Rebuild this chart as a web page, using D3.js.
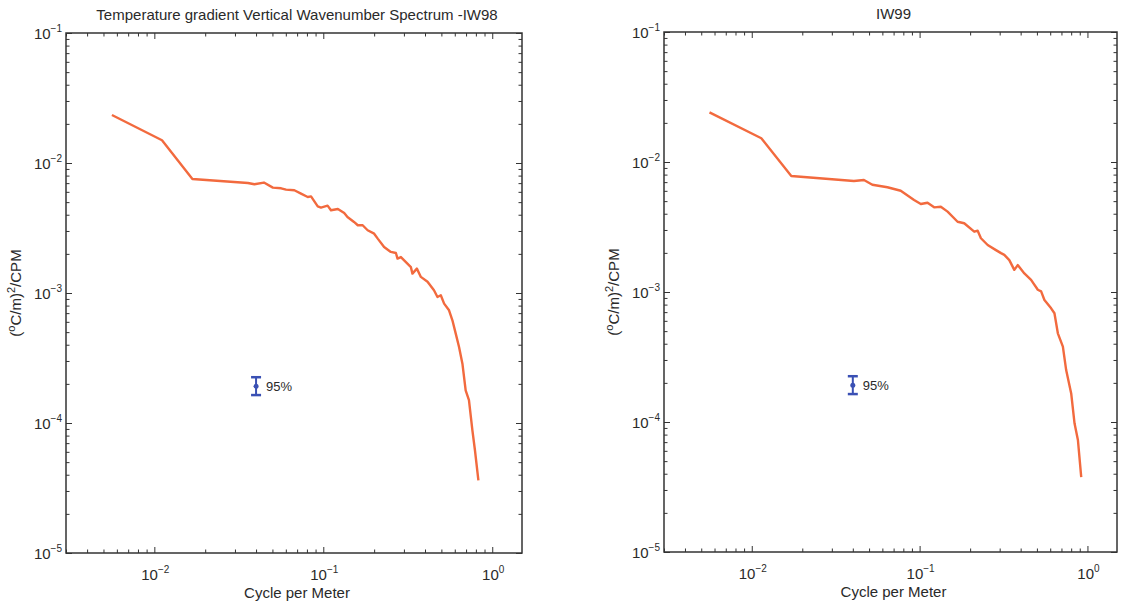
<!DOCTYPE html>
<html>
<head>
<meta charset="utf-8">
<script src="https://cdn.jsdelivr.net/npm/d3@7"></script>
<style>
body { margin: 0; background: #fff; }
text { font-family: "Liberation Sans", Arial, sans-serif; fill: #2a2a2a; }
.axis path { display: none; }
.axis line { stroke: #333; stroke-width: 1; }
</style>
</head>
<body>
<div id="viz"></div>
<script>
// spectrum values (cycle per meter, (oC/m)^2/CPM)
var kIW98 = [0.00561, 0.0111, 0.0168, 0.0358, 0.0391, 0.0445, 0.0503, 0.0563, 0.0602, 0.0674,
  0.0738, 0.0809, 0.0846, 0.0927, 0.0969, 0.106, 0.111, 0.122, 0.133, 0.139,
  0.152, 0.160, 0.171, 0.183, 0.200, 0.210, 0.229, 0.251, 0.269, 0.275,
  0.288, 0.330, 0.337, 0.358, 0.378, 0.414, 0.452, 0.474, 0.496, 0.519,
  0.555, 0.581, 0.608, 0.636, 0.666, 0.696, 0.728, 0.763, 0.790, 0.828];
var sIW98 = [0.0234, 0.01495, 0.00753, 0.00702, 0.00686, 0.00707, 0.00647, 0.00639, 0.00624, 0.00617,
  0.00582, 0.00548, 0.00554, 0.00464, 0.00454, 0.00470, 0.00433, 0.00443, 0.00412, 0.00384,
  0.00352, 0.00332, 0.00332, 0.00304, 0.00286, 0.00262, 0.00226, 0.00207, 0.00203, 0.00184,
  0.00189, 0.00158, 0.00141, 0.00154, 0.00133, 0.00122, 0.00105, 0.000931, 0.000960, 0.000829,
  0.000736, 0.000617, 0.000487, 0.000384, 0.000286, 0.000178, 0.000150, 0.0000879, 0.0000617, 0.0000362];

var kIW99 = [0.0056, 0.0114, 0.0172, 0.0406, 0.0466, 0.0523, 0.0643, 0.0772, 0.0927, 0.1017,
  0.1115, 0.1221, 0.1338, 0.1468, 0.1684, 0.1844, 0.2116, 0.2218, 0.2320, 0.2544,
  0.2851, 0.3056, 0.3197, 0.3424, 0.3667, 0.3843, 0.4209, 0.4615, 0.5061, 0.5297,
  0.5543, 0.6077, 0.6360, 0.6663, 0.7139, 0.7468, 0.8002, 0.8376, 0.8774, 0.9182];
var sIW99 = [0.0241, 0.01522, 0.00780, 0.00714, 0.00727, 0.00669, 0.00639, 0.00601, 0.00510, 0.00475,
  0.00486, 0.00448, 0.00453, 0.00415, 0.00347, 0.00338, 0.00291, 0.00296, 0.00259, 0.00230,
  0.00210, 0.00199, 0.00193, 0.00176, 0.00148, 0.00161, 0.00139, 0.00124, 0.00104, 0.00101,
  0.000868, 0.000749, 0.000686, 0.000481, 0.000380, 0.000251, 0.000166, 0.0000977, 0.0000727, 0.0000377];

// axis ticks and labels
var xTicks = [0.01, 0.1, 1];
var xTickExp = ['\u22122', '\u22121', '0'];
var yTicks = [1e-1, 1e-2, 1e-3, 1e-4, 1e-5];
var yTickExp = ['\u22121', '\u22122', '\u22123', '\u22124', '\u22125'];

// 95% confidence bar
var ciK = 0.04;
var ciLow = 1.64e-4;
var ciMid = 1.92e-4;
var ciHigh = 2.25e-4;

var svg = d3.select('#viz').append('svg')
  .attr('width', 1129)
  .attr('height', 605);

// minor tick values, 2..9 in every decade
function minors(lo, hi) {
  var out = [];
  for (var e = -6; e <= 1; e++) {
    for (var m = 2; m <= 9; m++) {
      var v = m * Math.pow(10, e);
      if (v >= lo * 0.999 && v <= hi * 1.001) out.push(v);
    }
  }
  return out;
}

function drawPanel(id, left, top, width, height, k, s, title) {
  var g = svg.append('g')
    .attr('id', id)
    .attr('transform', 'translate(' + left + ',' + top + ')');

  var x = d3.scaleLog().domain([0.003, 1.5]).range([0, width]);
  var y = d3.scaleLog().domain([1e-5, 1e-1]).range([height, 0]);

  var xMin = minors(0.003, 1.5);
  var yMin = minors(1e-5, 1e-1);

  // ticks point inward on all four sides
  function ticks(axis, vals, size, tr) {
    g.append('g')
      .attr('class', 'axis')
      .attr('transform', tr)
      .call(axis.tickValues(vals).tickSize(-size).tickFormat(''));
  }
  ticks(d3.axisBottom(x), xTicks, 6, 'translate(0,' + height + ')');
  ticks(d3.axisBottom(x), xMin, 3.5, 'translate(0,' + height + ')');
  ticks(d3.axisTop(x), xTicks, 6, 'translate(0,0)');
  ticks(d3.axisTop(x), xMin, 3.5, 'translate(0,0)');
  ticks(d3.axisLeft(y), yTicks, 6, 'translate(0,0)');
  ticks(d3.axisLeft(y), yMin, 3.5, 'translate(0,0)');
  ticks(d3.axisRight(y), yTicks, 6, 'translate(' + width + ',0)');
  ticks(d3.axisRight(y), yMin, 3.5, 'translate(' + width + ',0)');

  // box
  g.append('rect')
    .attr('width', width)
    .attr('height', height)
    .attr('fill', 'none')
    .attr('stroke', '#333')
    .attr('stroke-width', 1.5);

  // x tick labels
  xTicks.forEach(function (v, i) {
    var t = g.append('text')
      .attr('x', x(v) + 1)
      .attr('y', height + 27)
      .attr('text-anchor', 'middle')
      .style('font-size', '15px');
    t.append('tspan').text('10');
    t.append('tspan').attr('dy', -7).style('font-size', '10px').text(xTickExp[i]);
  });

  // y tick labels
  yTicks.forEach(function (v, i) {
    var t = g.append('text')
      .attr('x', -4)
      .attr('y', y(v) + 6)
      .attr('text-anchor', 'end')
      .style('font-size', '15px');
    t.append('tspan').text('10');
    t.append('tspan').attr('dy', -7).style('font-size', '10px').text(yTickExp[i]);
  });

  // axis labels and title
  g.append('text')
    .attr('x', width / 2 + 3)
    .attr('y', height + 45)
    .attr('text-anchor', 'middle')
    .style('font-size', '15px')
    .text('Cycle per Meter');

  var yl = g.append('text')
    .attr('transform', 'translate(-45,' + (height / 2) + ') rotate(-90)')
    .attr('text-anchor', 'middle')
    .style('font-size', '15px');
  yl.append('tspan').text('(');
  yl.append('tspan').attr('dy', -6).style('font-size', '11px').text('o');
  yl.append('tspan').attr('dy', 6).text('C/m)');
  yl.append('tspan').attr('dy', -6).style('font-size', '11px').text('2');
  yl.append('tspan').attr('dy', 6).text('/CPM');

  g.append('text')
    .attr('x', width / 2 + 3)
    .attr('y', -13)
    .attr('text-anchor', 'middle')
    .style('font-size', '15px')
    .text(title);

  // spectrum
  var line = d3.line()
    .x(function (d, i) { return x(k[i]); })
    .y(function (d) { return y(d); });

  g.append('path')
    .datum(s)
    .attr('d', line)
    .attr('fill', 'none')
    .attr('stroke', '#f26a3e')
    .attr('stroke-width', 2.4)
    .attr('stroke-linejoin', 'round');

  // 95% error bar
  var ci = g.append('g').attr('class', 'ci');
  var cx = x(ciK);
  ci.append('line')
    .attr('x1', cx).attr('x2', cx)
    .attr('y1', y(ciLow)).attr('y2', y(ciHigh))
    .attr('stroke', '#3a50b4').attr('stroke-width', 2);
  [ciLow, ciHigh].forEach(function (v) {
    ci.append('line')
      .attr('x1', cx - 5).attr('x2', cx + 5)
      .attr('y1', y(v)).attr('y2', y(v))
      .attr('stroke', '#3a50b4').attr('stroke-width', 2.5);
  });
  ci.append('circle')
    .attr('cx', cx).attr('cy', y(ciMid)).attr('r', 2.5)
    .attr('fill', '#3a50b4');
  ci.append('text')
    .attr('x', cx + 10)
    .attr('y', y(ciMid) + 5)
    .style('font-size', '13px')
    .text('95%');
}

drawPanel('iw98', 66, 33, 456, 520, kIW98, sIW98,
  'Temperature gradient Vertical Wavenumber Spectrum -IW98');
drawPanel('iw99', 664, 32, 453, 520, kIW99, sIW99, 'IW99');
</script>
</body>
</html>
